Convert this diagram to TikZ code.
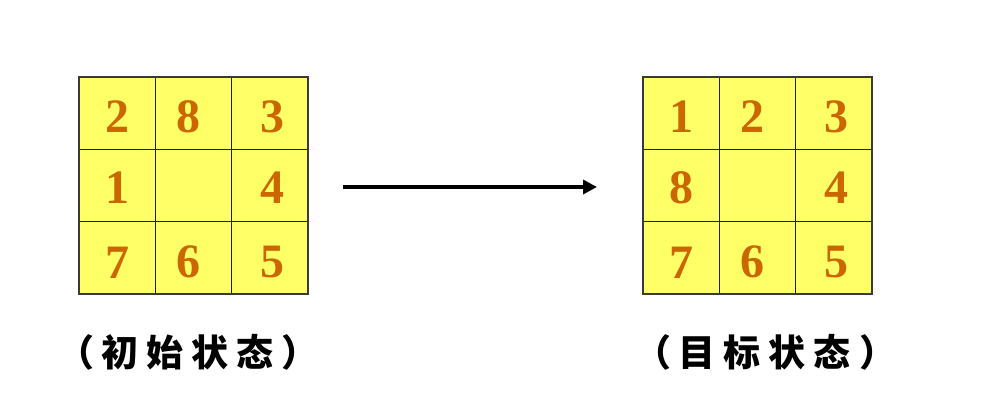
\documentclass[tikz,border=0pt]{standalone}
\usepackage{fontspec}
\setmainfont{Liberation Serif}
\newfontfamily\cjk{Noto Sans CJK SC}
\usetikzlibrary{arrows.meta}
\definecolor{cellyellow}{HTML}{FFFF66}
\definecolor{digitcol}{HTML}{CC6600}
\definecolor{gridline}{HTML}{1A1A5E}
\definecolor{outerline}{HTML}{3A3A3A}
\tikzset{
  cell/.style={draw=gridline, fill=cellyellow, line width=1.2pt, minimum width=76.33pt, minimum height=72.33pt, inner sep=0pt, outer sep=0pt},
  num/.style={text=digitcol, font=\fontsize{48}{48}\selectfont\bfseries, inner sep=0pt},
  outerbox/.style={draw=outerline, line width=1.6pt},
  lab/.style={font=\cjk\bfseries\fontsize{37}{37}\selectfont, inner sep=0pt},
  arr/.style={line width=4pt, -{Triangle[length=14pt,width=14pt]}}
}
\begin{document}
\begin{tikzpicture}[x=1pt,y=-1pt]
\path[use as bounding box] (0,0) rectangle (986,412);
\foreach \r in {1,2,3}{\foreach \c in {1,2,3}{
  \node[cell] (L\r\c) at ({79+76.33*(\c-0.5)},{77+72.33*(\r-0.5)}) {};
  \node[cell] (R\r\c) at ({643+76.33*(\c-0.5)},{77+72.33*(\r-0.5)}) {};
}}
\draw[outerbox] (L11.north west) rectangle (L33.south east);
\draw[outerbox] (R11.north west) rectangle (R33.south east);
% left digits
\node[num] (l2) at ([shift={(0,3.5)}]L11.center) {2};
\node[num] (l8) at ([shift={(-5,3.5)}]L12.center) {8};
\node[num] (l3) at ([shift={(2.5,3.5)}]L13.center) {3};
\node[num] (l1) at ([shift={(0,2)}]L21.center) {1};
\node[num] (l4) at ([shift={(2.5,2)}]L23.center) {4};
\node[num] (l7) at ([shift={(0,4.5)}]L31.center) {7};
\node[num] (l6) at ([shift={(-5,4.5)}]L32.center) {6};
\node[num] (l5) at ([shift={(2.5,4.5)}]L33.center) {5};
% right digits
\node[num] (r1) at ([shift={(0,3.5)}]R11.center) {1};
\node[num] (r2) at ([shift={(-5,3.5)}]R12.center) {2};
\node[num] (r3) at ([shift={(2.5,3.5)}]R13.center) {3};
\node[num] (r8) at ([shift={(0,2)}]R21.center) {8};
\node[num] (r4) at ([shift={(2.5,2)}]R23.center) {4};
\node[num] (r7) at ([shift={(0,4.5)}]R31.center) {7};
\node[num] (r6) at ([shift={(-5,4.5)}]R32.center) {6};
\node[num] (r5) at ([shift={(2.5,4.5)}]R33.center) {5};
% arrow
\draw[arr] ([shift={(35,1.5)}]L23.east) -- ([shift={(-46,1.5)}]R21.west);
% labels
\node[lab] (llab) at (188,352) {（\hspace{8pt}初\hspace{8pt}始\hspace{8pt}状\hspace{8pt}态\hspace{8pt}）};
\node[lab] (rlab) at (765,352) {（\hspace{8pt}目\hspace{8pt}标\hspace{8pt}状\hspace{8pt}态\hspace{8pt}）};
\end{tikzpicture}
\end{document}
